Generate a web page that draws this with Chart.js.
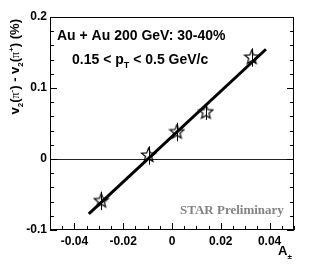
<!DOCTYPE html>
<html>
<head>
<meta charset="utf-8">
<script src="https://cdn.jsdelivr.net/npm/chart.js@4/dist/chart.umd.min.js"></script>
<style>
html, body { margin: 0; padding: 0; background: #fff; }
</style>
</head>
<body>
<canvas id="grafica" width="309" height="273"></canvas>
<script>
// datos
const asimetria = [-0.029, -0.0096, 0.002, 0.0139, 0.0327];
const deltaV2 = [-0.059, 0.005, 0.038, 0.066, 0.143];
const errores = [0.013, 0.013, 0.013, 0.011, 0.013];

// recta de ajuste (extremos)
const ajusteX = [-0.0341, 0.0385];
const ajusteY = [-0.0774, 0.1546];

// ejes
const xTicks = [-0.04, -0.02, 0, 0.02, 0.04];
const xTickLabels = ['-0.04', '-0.02', '0', '0.02', '0.04'];
const yTicks = [-0.1, 0, 0.1, 0.2];
const yTickLabels = ['-0.1', '0', '0.1', '0.2'];

const SANS = '"Liberation Sans", Arial, sans-serif';
const SERIF = '"Liberation Serif", "Times New Roman", serif';

// marcador: estrella abierta
function crearEstrella() {
    const c = document.createElement('canvas');
    c.width = 17;
    c.height = 17;
    const g = c.getContext('2d');
    g.beginPath();
    for (let i = 0; i < 10; i++) {
        const r = i % 2 ? 3.2 : 7.4;
        const ang = -Math.PI / 2 + i * Math.PI / 5;
        g.lineTo(8.5 + r * Math.cos(ang), 8.5 + r * Math.sin(ang));
    }
    g.closePath();
    g.lineWidth = 1.2;
    g.strokeStyle = '#000';
    g.stroke();
    return c;
}

// dibuja texto con partes (sub/superindices)
function textoPartes(ctx, partes, x, y) {
    let cx = x;
    partes.forEach(p => {
        ctx.font = p.f;
        ctx.fillText(p.t, cx, y + (p.dy || 0));
        cx += ctx.measureText(p.t).width;
    });
}

const decoracion = {
    id: 'decoracion',
    beforeDatasetsDraw(chart) {
        const { ctx, chartArea: a, scales: { x, y } } = chart;
        ctx.save();
        ctx.lineWidth = 1;
        // linea del cero
        const y0 = Math.round(y.getPixelForValue(0)) + 0.5;
        ctx.strokeStyle = '#222';
        ctx.beginPath();
        ctx.moveTo(a.left, y0);
        ctx.lineTo(a.right, y0);
        ctx.stroke();
        // barras de error
        ctx.strokeStyle = '#000';
        asimetria.forEach((v, i) => {
            const px = Math.round(x.getPixelForValue(v)) + 0.5;
            ctx.beginPath();
            ctx.moveTo(px, y.getPixelForValue(deltaV2[i] - errores[i]));
            ctx.lineTo(px, y.getPixelForValue(deltaV2[i] + errores[i]));
            ctx.stroke();
        });
        ctx.restore();
    },
    afterDraw(chart) {
        const { ctx, chartArea: a, scales: { x, y } } = chart;
        ctx.save();
        ctx.strokeStyle = '#000';
        ctx.lineWidth = 1;
        // marco
        ctx.strokeRect(a.left + 0.5, a.top + 0.5, a.right - a.left - 1, a.bottom - a.top - 1);

        // marcas hacia dentro
        ctx.beginPath();
        for (let k = 0; k <= 15; k++) {
            const v = -0.1 + k * 0.02;
            const py = Math.round(y.getPixelForValue(v)) + 0.5;
            const len = k % 5 === 0 ? 7 : 4;
            ctx.moveTo(a.left, py); ctx.lineTo(a.left + len, py);
            ctx.moveTo(a.right, py); ctx.lineTo(a.right - len, py);
        }
        for (let k = 0; k <= 20; k++) {
            const v = -0.05 + k * 0.005;
            const px = Math.round(x.getPixelForValue(v)) + 0.5;
            const q = v / 0.02;
            const len = Math.abs(q - Math.round(q)) < 1e-6 ? 7 : 4;
            ctx.moveTo(px, a.bottom); ctx.lineTo(px, a.bottom - len);
        }
        ctx.stroke();

        // textos dentro
        ctx.fillStyle = '#000';
        ctx.textBaseline = 'alphabetic';
        ctx.textAlign = 'left';
        const b14 = 'bold 14px ' + SANS;
        const b9 = 'bold 9px ' + SANS;
        const b8 = 'bold 8px ' + SANS;
        textoPartes(ctx, [{ t: 'Au + Au 200 GeV: 30-40%', f: b14 }], 57, 40);
        textoPartes(ctx, [
            { t: '0.15 < p', f: b14 },
            { t: 'T', f: b9, dy: 4 },
            { t: ' < 0.5 GeV/c', f: b14 }
        ], 72, 64);

        ctx.fillStyle = '#828282';
        textoPartes(ctx, [{ t: 'STAR Preliminary', f: 'bold 13px ' + SERIF }], 180, 214);

        // titulo eje x
        ctx.fillStyle = '#000';
        textoPartes(ctx, [
            { t: 'A', f: 'bold 13px ' + SANS },
            { t: '±', f: b8, dy: 4 }
        ], 278, 255);

        // titulo eje y (rotado)
        const b13 = 'bold 13px ' + SANS;
        const pi = '12px ' + SERIF;
        const partesY = [
            { t: 'v', f: b13 },
            { t: '2', f: b8, dy: 4 },
            { t: '(', f: b13 },
            { t: 'π', f: pi },
            { t: '-', f: b8, dy: -5 },
            { t: ') - v', f: b13 },
            { t: '2', f: b8, dy: 4 },
            { t: '(', f: b13 },
            { t: 'π', f: pi },
            { t: '+', f: b8, dy: -5 },
            { t: ') (%)', f: b13 }
        ];
        let ancho = 0;
        partesY.forEach(p => { ctx.font = p.f; ancho += ctx.measureText(p.t).width; });
        ctx.translate(19, 19);
        ctx.rotate(-Math.PI / 2);
        textoPartes(ctx, partesY, -ancho, 0);
        ctx.restore();
    }
};

const fuenteTicks = { family: SANS, size: 12, weight: 'bold' };

new Chart(document.getElementById('grafica'), {
    type: 'scatter',
    data: {
        datasets: [
            {
                data: asimetria.map((v, i) => ({ x: v, y: deltaV2[i] })),
                pointStyle: crearEstrella(),
                pointRadius: 7,
                showLine: false
            },
            {
                data: ajusteX.map((v, i) => ({ x: v, y: ajusteY[i] })),
                showLine: true,
                borderColor: '#000',
                borderWidth: 3,
                pointRadius: 0
            }
        ]
    },
    options: {
        responsive: false,
        animation: false,
        devicePixelRatio: 1,
        layout: { padding: { top: 17, right: 15, left: 0, bottom: 0 } },
        plugins: { legend: { display: false }, tooltip: { enabled: false } },
        scales: {
            x: {
                type: 'linear',
                min: -0.05,
                max: 0.05,
                grid: { display: false, drawTicks: false },
                border: { display: false },
                afterBuildTicks: s => { s.ticks = xTicks.map(v => ({ value: v })); },
                afterFit: s => { s.height = 43; },
                ticks: {
                    color: '#000',
                    font: fuenteTicks,
                    padding: 4,
                    autoSkip: false,
                    maxRotation: 0,
                    callback: (v, i) => xTickLabels[i]
                }
            },
            y: {
                min: -0.1,
                max: 0.2,
                grid: { display: false, drawTicks: false },
                border: { display: false },
                afterBuildTicks: s => { s.ticks = yTicks.map(v => ({ value: v })); },
                afterFit: s => { s.width = 50; },
                ticks: {
                    color: '#000',
                    font: fuenteTicks,
                    padding: 3,
                    autoSkip: false,
                    callback: (v, i) => yTickLabels[i]
                }
            }
        }
    },
    plugins: [decoracion]
});
</script>
</body>
</html>
